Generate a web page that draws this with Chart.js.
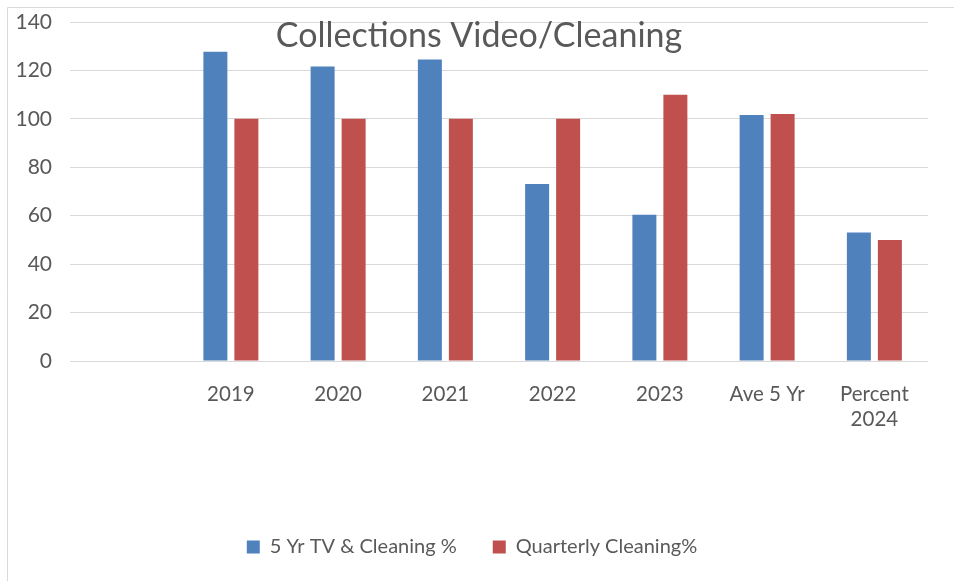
<!DOCTYPE html>
<html>
<head>
<meta charset="utf-8">
<script src="https://cdn.jsdelivr.net/npm/chart.js@4/dist/chart.umd.min.js"></script>
<style>
  html, body { margin: 0; padding: 0; background: #ffffff; }
  #wrap { position: relative; width: 954px; height: 581px; }
  canvas { display: block; }
</style>
</head>
<body>
<div id="wrap"><canvas id="c" width="954" height="581"></canvas></div>
<script>
// ---- data ----
const categories = ["", "2019", "2020", "2021", "2022", "2023", "Ave 5 Yr", ["Percent", "2024"]];
const seriesNames = ["5 Yr TV & Cleaning %", "Quarterly Cleaning%"];
const tvCleaning = [null, 127.7, 121.6, 124.5, 73.1, 60.4, 101.6, 53.1];
const quarterlyCleaning = [null, 100, 100, 100, 100, 110, 102, 50];
const yTicks = [0, 20, 40, 60, 80, 100, 120, 140];
const titleText = "Collections Video/Cleaning";

const TEXT = '#595959';
const FONT = 'Lato, "Open Sans", sans-serif';

const framePlugin = {
  id: 'frame',
  afterLayout(chart) {
    if (chart.legend) { chart.legend.left += 8; chart.legend.right += 8; }
  },
  beforeDraw(chart) {
    const ctx = chart.ctx;
    ctx.save();
    ctx.strokeStyle = '#d9d9d9';
    ctx.lineWidth = 1;
    ctx.beginPath();
    ctx.moveTo(7.5, chart.height);
    ctx.lineTo(7.5, 7.5);
    ctx.lineTo(chart.width, 7.5);
    ctx.stroke();
    ctx.restore();
  },
  afterDraw(chart) {
    const ctx = chart.ctx;
    ctx.save();
    ctx.fillStyle = TEXT;
    ctx.font = '34px ' + FONT;
    ctx.textAlign = 'center';
    ctx.textBaseline = 'alphabetic';
    ctx.fillText(titleText, 479, 47);
    ctx.restore();
  }
};

new Chart(document.getElementById('c'), {
  type: 'bar',
  data: {
    labels: categories,
    datasets: [
      { label: seriesNames[0], data: tvCleaning, backgroundColor: '#4f81bd',
        categoryPercentage: 0.578, barPercentage: 0.774 },
      { label: seriesNames[1], data: quarterlyCleaning, backgroundColor: '#c0504d',
        categoryPercentage: 0.578, barPercentage: 0.774 }
    ]
  },
  options: {
    responsive: false,
    animation: false,
    devicePixelRatio: 1,
    layout: { padding: { left: 0, right: 26, top: 22, bottom: 14 } },
    scales: {
      x: {
        grid: { display: false, drawTicks: false },
        border: { display: false },
        ticks: { color: TEXT, font: { family: FONT, size: 20.5 }, padding: 21, maxRotation: 0, autoSkip: false },
        afterFit(s) { s.height = 140; }
      },
      y: {
        min: 0, max: 140,
        afterBuildTicks(s) { s.ticks = yTicks.map(v => ({ value: v })); },
        grid: { color: '#d9d9d9', lineWidth: 1, drawTicks: false },
        border: { display: false },
        ticks: { color: TEXT, font: { family: FONT, size: 21 }, padding: 18 },
        afterFit(s) { s.width = 70; s.paddingTop = 0; s.paddingBottom = 0; }
      }
    },
    plugins: {
      title: { display: false },
      tooltip: { enabled: false },
      legend: {
        position: 'bottom',
        labels: { color: TEXT, font: { family: FONT, size: 20 }, boxWidth: 13, boxHeight: 13, padding: 36 }
      }
    }
  },
  plugins: [framePlugin]
});
</script>
</body>
</html>
